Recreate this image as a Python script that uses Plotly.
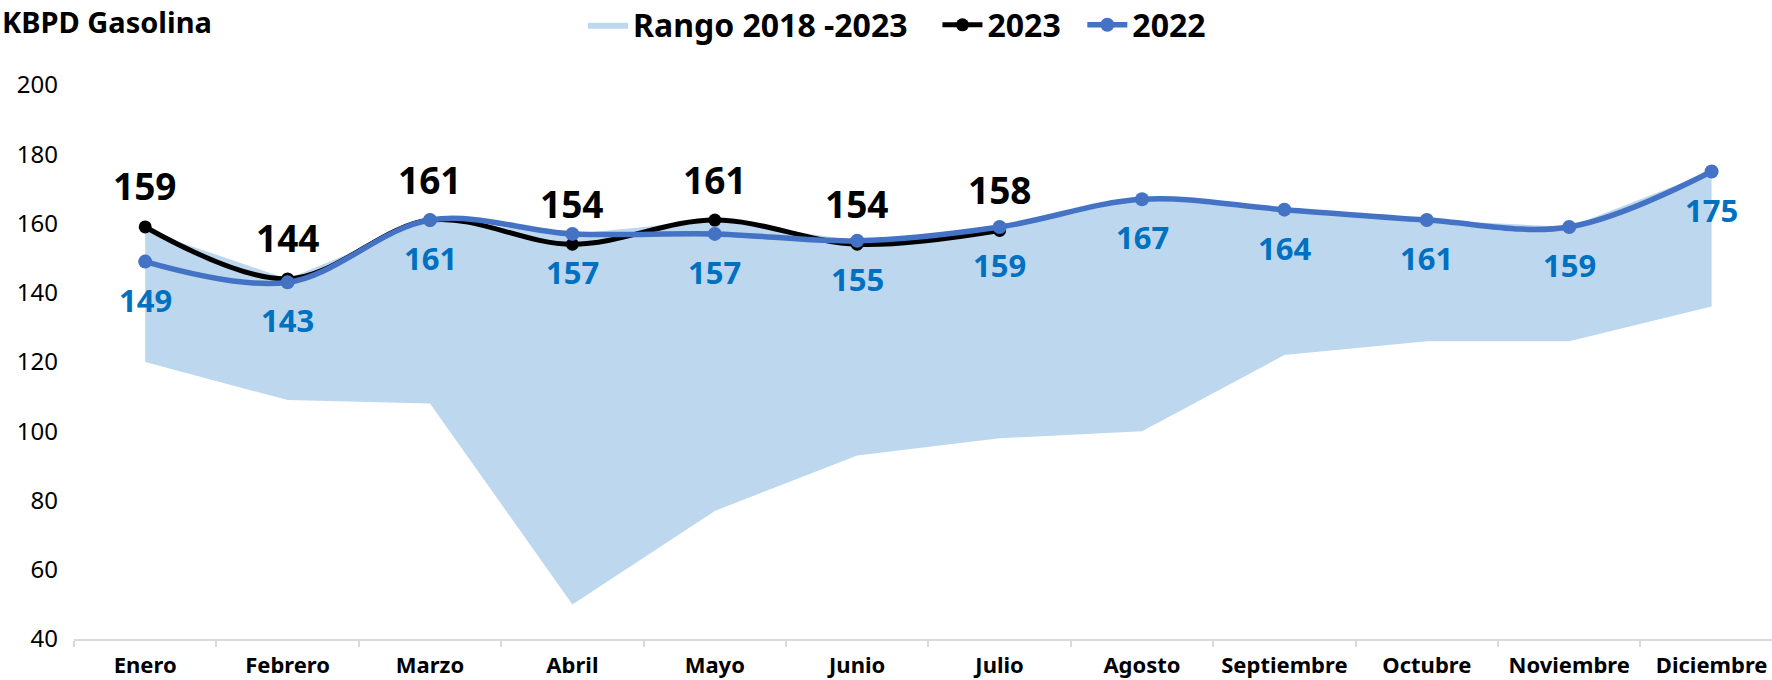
import plotly.graph_objects as go

# ---------------- data ----------------
months = ["Enero", "Febrero", "Marzo", "Abril", "Mayo", "Junio", "Julio",
          "Agosto", "Septiembre", "Octubre", "Noviembre", "Diciembre"]
range_low = [120, 109, 108, 50, 77, 93, 98, 100, 122, 126, 126, 136]
range_high = [158, 144, 161, 157, 161, 155, 159, 167, 164, 161, 159, 175]
y2023 = [159, 144, 161, 154, 161, 154, 158]
y2022 = [149, 143, 161, 157, 157, 155, 159, 167, 164, 161, 159, 175]
y_ticks = [40, 60, 80, 100, 120, 140, 160, 180, 200]
series_names = ["Rango 2018 -2023", "2023", "2022"]

# ---------------- layout geometry ----------------
W, H = 1772, 680
ML, MR, MT, MB = 74, 0, 85, 41
PW, PH = W - ML - MR, H - MT - MB
CAT_W = 142.4  # px per category

def px_to_paper_x(px):
    return (px - ML) / PW

def px_to_paper_y(py):
    return (H - MB - py) / PH

FONT = "Noto Sans"
C_BAND = "#BDD7EE"
C_2022 = "#4472C4"
C_LAB22 = "#0070C0"
C_2023 = "#000000"
NB = "\u00a0"

fig = go.Figure()

fig.add_trace(go.Scatter(
    x=months, y=range_low, mode="lines", line=dict(width=0, color=C_BAND),
    showlegend=False, hoverinfo="skip"))
fig.add_trace(go.Scatter(
    x=months, y=range_high, mode="lines", line=dict(width=0, color=C_BAND),
    fill="tonexty", fillcolor=C_BAND, name=series_names[0] + NB * 3))
fig.add_trace(go.Scatter(
    x=months[:len(y2023)], y=y2023, mode="lines+markers", name=series_names[1] + NB * 2,
    line=dict(color=C_2023, width=5, shape="spline", smoothing=1.0),
    marker=dict(color=C_2023, size=13)))
fig.add_trace(go.Scatter(
    x=months, y=y2022, mode="lines+markers", name=series_names[2],
    line=dict(color=C_2022, width=5.5, shape="spline", smoothing=1.0),
    marker=dict(color=C_2022, size=14)))

annotations = []
for m, v in zip(months, y2023):
    annotations.append(dict(
        x=m, y=v, xref="x", yref="y", text=str(v), showarrow=False,
        yshift=41, font=dict(family=FONT, size=37, color=C_2023, weight="bold")))
for m, v in zip(months, y2022):
    annotations.append(dict(
        x=m, y=v, xref="x", yref="y", text=str(v), showarrow=False,
        yshift=-38, font=dict(family=FONT, size=31, color=C_LAB22, weight="bold")))

annotations.append(dict(
    x=px_to_paper_x(0), y=px_to_paper_y(0), xref="paper", yref="paper",
    xanchor="left", yanchor="top", text="KBPD Gasolina", showarrow=False,
    font=dict(family=FONT, size=29, color="#000000", weight="bold")))

fig.update_layout(
    width=W, height=H,
    margin=dict(l=ML, r=MR, t=MT, b=MB, autoexpand=False),
    paper_bgcolor="white", plot_bgcolor="white",
    font=dict(family=FONT, color="#000000"),
    showlegend=True,
    legend=dict(
        orientation="h", xref="container", yref="container",
        x=897 / W, xanchor="center", y=1 - 25 / H, yanchor="middle",
        font=dict(family=FONT, size=32, color="#000000", weight="bold"),
        traceorder="normal", itemwidth=40, bgcolor="rgba(0,0,0,0)"),
    annotations=annotations,
    xaxis=dict(
        type="category", categoryorder="array", categoryarray=months,
        range=[-0.5, PW / CAT_W - 0.5],
        showgrid=False, zeroline=False,
        showline=True, linecolor="#D9D9D9", linewidth=2,
        ticks="outside", tickson="boundaries", ticklen=6, tickcolor="#D9D9D9",
        tickwidth=1.5, ticklabelstandoff=6,
        tickfont=dict(family=FONT, size=22, color="#000000", weight="bold"),
        fixedrange=True),
    yaxis=dict(
        range=[40, 200], tickvals=y_ticks, ticktext=[str(t) for t in y_ticks],
        showgrid=False, zeroline=False, showline=False, ticks="",
        ticklabelstandoff=15,
        tickfont=dict(family=FONT, size=24, color="#000000"),
        fixedrange=True),
)

fig.write_html(
    "out.html",
    config={"displayModeBar": False},
    post_script="document.body.style.margin='0';document.body.style.overflow='hidden';",
)
